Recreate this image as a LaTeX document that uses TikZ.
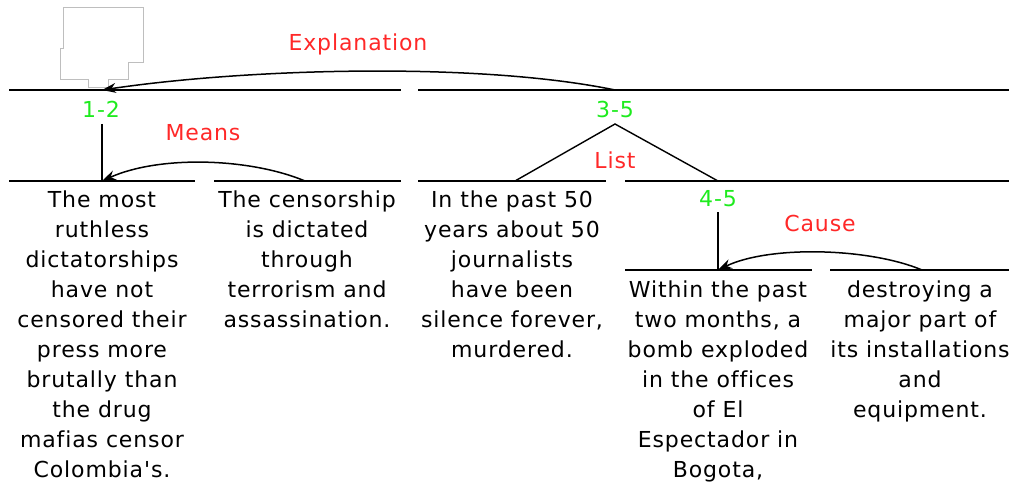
\documentclass[tikz,border=0pt]{standalone}
\usepackage{fontspec}
\setmainfont[LetterSpace=4,Ligatures={TeXOff,NoCommon}]{DejaVu Sans}
\usetikzlibrary{arrows.meta}
\definecolor{relred}{RGB}{255,40,40}
\definecolor{spangreen}{RGB}{30,235,30}
\definecolor{boxgray}{RGB}{190,190,190}
\tikzset{
  seg/.style={line width=1.6pt},
  treeline/.style={line width=1.4pt},
  body/.style={align=center, inner sep=0pt, anchor=north, font=\fontsize{22}{30}\selectfont},
  rel/.style={text=relred, inner sep=0pt, font=\fontsize{22}{26}\selectfont},
  span/.style={text=spangreen, inner sep=0pt, font=\fontsize{22}{26}\selectfont},
  relarrow/.style={line width=1.5pt, -{Stealth[length=14pt,width=10pt]}},
}
\begin{document}
\begin{tikzpicture}[x=1pt,y=-1pt]
\useasboundingbox (0,0) rectangle (1009,484);
\clip (0,0) rectangle (1009,484);
% grey outline box
\draw[boxgray, line width=0.6pt] (63,7) -- (143,7) -- (143,62) -- (128,62) -- (128,79) -- (108,79) -- (108,87) -- (88,87) -- (88,79) -- (60,79) -- (60,48) -- (63,48) -- cycle;
% coordinates
\coordinate (t12) at (102,90);
\coordinate (t35) at (615,90);
\coordinate (b12) at (102,124);
\coordinate (s1) at (102,181);
\coordinate (s2) at (305,181);
\coordinate (apex) at (615,124);
\coordinate (s3) at (515,181);
\coordinate (s45) at (718,181);
\coordinate (t45) at (718,212);
\coordinate (s4) at (718,270);
\coordinate (s5) at (922,270);
% level 1 lines
\draw[seg] (9,90) -- (401,90);
\draw[seg] (418,90) -- (1009,90);
% level 2 lines
\draw[seg] (9,181) -- (195,181);
\draw[seg] (214,181) -- (401,181);
\draw[seg] (418,181) -- (606,181);
\draw[seg] (625,181) -- (1009,181);
% level 3 lines
\draw[seg] (625,270) -- (812,270);
\draw[seg] (830,270) -- (1009,270);
% span labels
\node[span] (l12) at (101,109) {1-2};
\node[span] (l35) at (615,109) {3-5};
\node[span] (l45) at (718,199) {4-5};
% tree lines
\draw[treeline] (b12) -- (s1);
\draw[treeline] (s3) -- (apex) -- (s45);
\draw[treeline] (t45) -- (s4);
% relation labels
\node[rel] (lexp) at (358,44) {Explanation};
\node[rel] (lmeans) at (203,133) {Means};
\node[rel] (llist) at (615,160) {List};
\node[rel] (lcause) at (820,223) {Cause};
% relation arrows
\draw[relarrow] (t35) .. controls (480,62) and (250,68) .. (t12);
\draw[relarrow] (s2) .. controls (250,158) and (160,155) .. (s1);
\draw[relarrow] (s5) .. controls (870,248) and (770,245) .. (s4);
% text units
\node[body] (u1) at (102,191) {The most\\ruthless\\dictatorships\\have not\\censored their\\press more\\brutally than\\the drug\\mafias censor\\Colombia's.};
\node[body] (u2) at (307,191) {The censorship\\is dictated\\through\\terrorism and\\assassination.};
\node[body] (u3) at (512,191) {In the past 50\\years about 50\\journalists\\have been\\silence forever,\\murdered.};
\node[body] (u4) at (718,281) {Within the past\\two months, a\\bomb exploded\\in the offices\\of El\\Espectador in\\Bogota,};
\node[body] (u5) at (920,281) {destroying a\\major part of\\its installations\\and\\equipment.};
\end{tikzpicture}
\end{document}
